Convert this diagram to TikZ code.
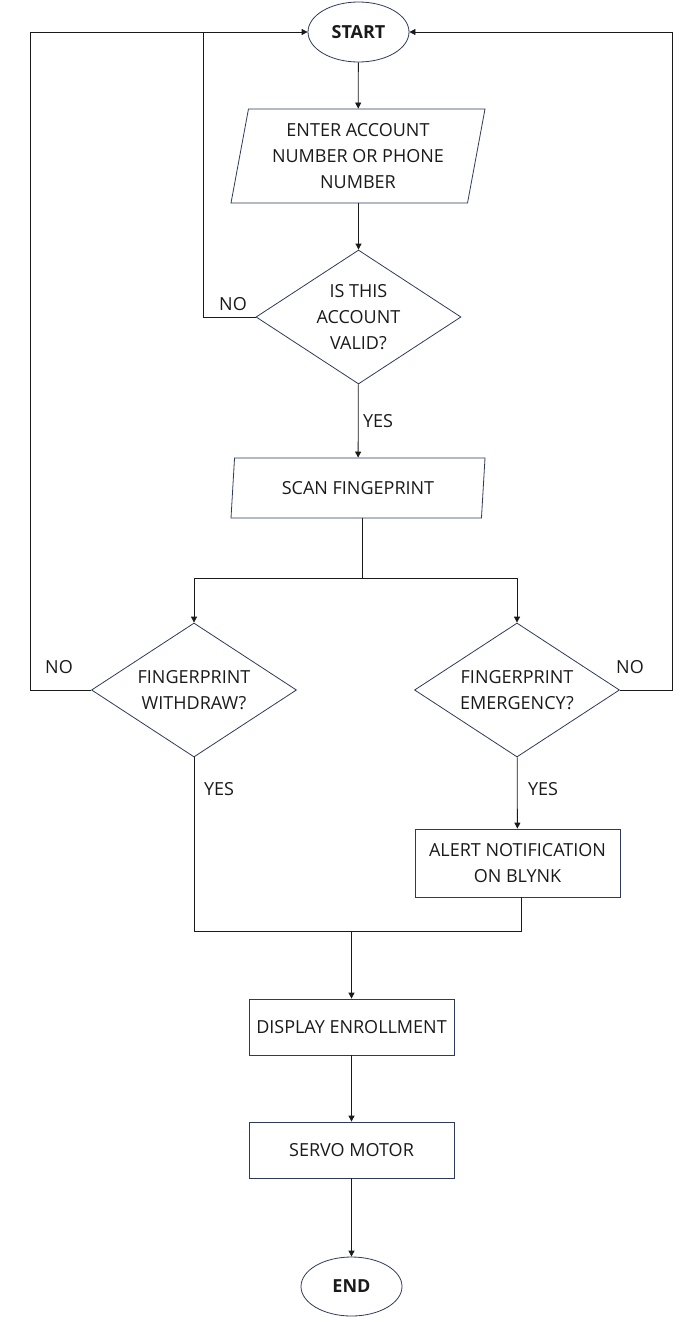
\documentclass[tikz,border=0pt]{standalone}
\usepackage{fontspec}
\setmainfont{Open Sans}
\usetikzlibrary{shapes.geometric,arrows.meta,calc}
\definecolor{edge}{HTML}{2E3A59}
\definecolor{ink}{HTML}{1A1A1A}
\begin{document}
\begin{tikzpicture}[x=1pt,y=-1pt,
  every node/.style={font=\fontsize{18}{26}\selectfont, text=ink, align=center, inner sep=0pt},
  term/.style={ellipse, draw=edge, line width=0.8pt, minimum width=101pt, minimum height=60pt, font=\fontsize{18}{26}\selectfont\bfseries},
  iobox/.style={trapezium, trapezium left angle=75, trapezium right angle=105, trapezium stretches body, draw=edge, line width=0.8pt, minimum width=254pt},
  decide/.style={diamond, aspect=1.53, draw=edge, line width=0.8pt, minimum width=205pt, minimum height=134pt},
  procbox/.style={rectangle, draw=edge, line width=0.8pt, minimum width=205pt},
  lbl/.style={font=\fontsize{18}{20}\selectfont},
  conn/.style={draw=ink, line width=0.8pt},
  arr/.style={conn, -{Triangle[length=6pt,width=6pt]}}
]
\useasboundingbox (0,0) rectangle (691,1317);
\node[term] (start) at (358.5,32) {START};
\node[iobox, minimum height=94pt] (p1) at (358,156) {ENTER ACCOUNT\\NUMBER OR PHONE\\NUMBER};
\node[decide] (d1) at (358.5,317) {IS THIS\\ACCOUNT\\VALID?};
\node[iobox, minimum height=60pt] (p2) at (358,488) {SCAN FINGEPRINT};
\node[decide] (dw) at (194,690) {FINGERPRINT\\WITHDRAW?};
\node[decide] (de) at (517,690) {FINGERPRINT\\EMERGENCY?};
\node[procbox, minimum height=68pt] (alert) at (517.5,863) {ALERT NOTIFICATION\\ON BLYNK};
\node[procbox, minimum height=56pt] (disp) at (351.5,1027) {DISPLAY ENROLLMENT};
\node[procbox, minimum height=56pt] (servo) at (351.5,1150) {SERVO MOTOR};
\node[term, minimum height=59pt] (end) at (351.5,1286.5) {END};

\node[lbl] (no1) at (233,304) {NO};
\node[lbl] (yes1) at (378,421) {YES};
\node[lbl] (no2) at (59,667) {NO};
\node[lbl] (no3) at (630,667) {NO};
\node[lbl] (yes2) at (219,789) {YES};
\node[lbl] (yes3) at (543,789) {YES};

\coordinate (cL0) at (30,32);
\coordinate (cL1) at (203,32);
\coordinate (cR) at (672,32);
\coordinate (split) at (362,578);
\coordinate (p2b) at (362,518);
\coordinate (ab) at (521,897);
\coordinate (merge) at (351.5,931);

\draw[arr] (start) -- (p1);
\draw[arr] (p1.south -| d1.north) -- (d1.north);
\draw[arr] (d1) -- (p2);
\draw[conn] (d1.west) -| (cL1);
\draw[arr] (dw.west) -| (cL0) -- (start.west);
\draw[arr] (de.east) -| (cR) -- (start.east);
\draw[conn] (p2b) -- (split);
\draw[arr] (split) -| (dw.north);
\draw[arr] (split) -| (de.north);
\draw[arr] (de) -- (alert);
\draw[conn] (dw.south) |- (merge);
\draw[conn] (ab) |- (merge);
\draw[arr] (merge) -- (disp.north);
\draw[arr] (disp) -- (servo);
\draw[arr] (servo) -- (end);
\end{tikzpicture}
\end{document}
